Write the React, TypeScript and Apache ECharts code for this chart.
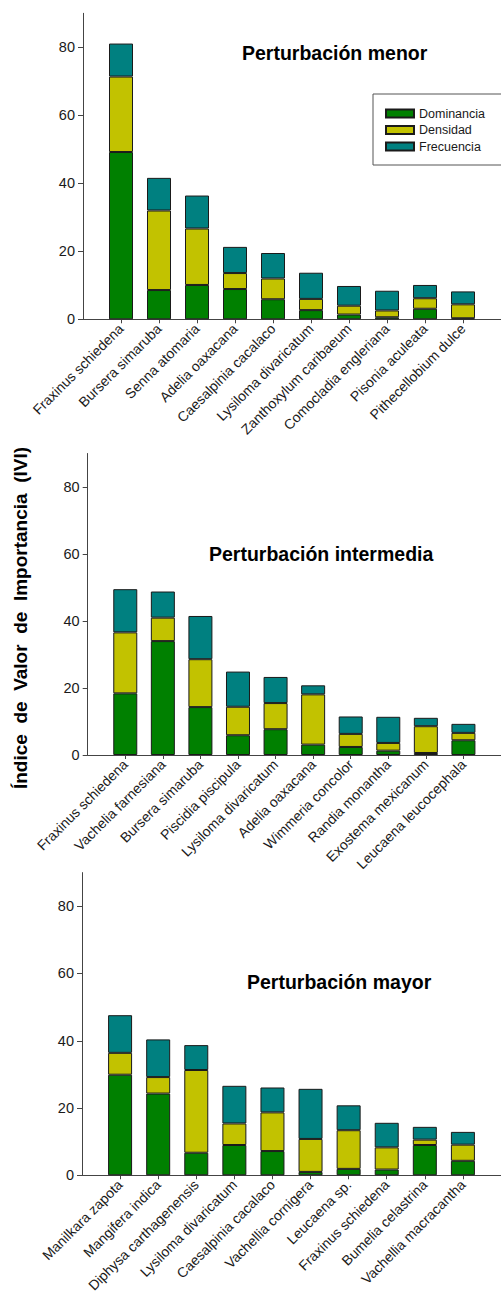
import React, { useEffect, useRef } from "react";
import * as echarts from "echarts";

const SERIES_NAMES = ["Dominancia", "Densidad", "Frecuencia"];
const COLORS = ["#008000", "#c2c200", "#008080"];

const CATS_MENOR = [
  "Fraxinus schiedena", "Bursera simaruba", "Senna atomaria", "Adelia oaxacana",
  "Caesalpinia cacalaco", "Lysiloma divaricatum", "Zanthoxylum caribaeum",
  "Comocladia engleriana", "Pisonia aculeata", "Pithecellobium dulce",
];
const DOM_MENOR = [49.2, 8.6, 10.1, 8.9, 5.9, 2.7, 1.4, 0.6, 3.1, 0.3];
const DEN_MENOR = [22.2, 23.4, 16.6, 4.7, 6.1, 3.3, 2.6, 2.0, 3.1, 4.1];
const FRE_MENOR = [9.7, 9.6, 9.7, 7.7, 7.5, 7.7, 5.8, 5.8, 3.9, 3.8];

const CATS_INTER = [
  "Fraxinus schiedena", "Vachelia farnesiana", "Bursera simaruba", "Piscidia piscipula",
  "Lysiloma divaricatum", "Adelia oaxacana", "Wimmeria concolor", "Randia monantha",
  "Exostema mexicanum", "Leucaena leucocephala",
];
const DOM_INTER = [18.4, 34.0, 14.3, 5.9, 7.7, 3.1, 2.4, 1.3, 0.6, 4.4];
const DEN_INTER = [18.2, 7.0, 14.3, 8.5, 7.8, 15.0, 3.9, 2.3, 8.0, 2.2];
const FRE_INTER = [12.9, 7.8, 12.9, 10.5, 7.8, 2.7, 5.2, 7.8, 2.5, 2.7];

const CATS_MAYOR = [
  "Manilkara zapota", "Mangifera indica", "Diphysa carthagenensis", "Lysiloma divaricatum",
  "Caesalpinia cacalaco", "Vachellia cornigera", "Leucaena sp.", "Fraxinus schiedena",
  "Bumelia celastrina", "Vachellia macracantha",
];
const DOM_MAYOR = [29.9, 24.3, 6.7, 9.0, 7.2, 1.0, 1.9, 1.7, 9.0, 4.3];
const DEN_MAYOR = [6.5, 4.9, 24.6, 6.4, 11.5, 9.8, 11.5, 6.6, 1.6, 4.8];
const FRE_MAYOR = [11.2, 11.2, 7.4, 11.2, 7.4, 14.9, 7.4, 7.3, 3.8, 3.8];

const TITLES = ["Perturbación menor", "Perturbación intermedia", "Perturbación mayor"];
const Y_TICKS = [0, 20, 40, 60, 80];
const Y_MAX = 90;
const Y_TITLE = "Índice  de  Valor  de  Importancia  (IVI)";

const PANELS = [
  { cats: CATS_MENOR, vals: [DOM_MENOR, DEN_MENOR, FRE_MENOR] },
  { cats: CATS_INTER, vals: [DOM_INTER, DEN_INTER, FRE_INTER] },
  { cats: CATS_MAYOR, vals: [DOM_MAYOR, DEN_MAYOR, FRE_MAYOR] },
];

// layout (pixels)
const LAYOUT = [
  { left: 83, top: 13.3, height: 306, step: 38.67, titleX: 242, titleY: 52.5 },
  { left: 87.7, top: 453.5, height: 301.5, step: 38.3, titleX: 209, titleY: 553.7 },
  { left: 82, top: 872.6, height: 303.1, step: 38.4, titleX: 247, titleY: 981.5 },
];

const FONT = "'Liberation Sans', Arial, Helvetica, sans-serif";

export default function App() {
  const ref = useRef<HTMLDivElement>(null);
  useEffect(() => {
    if (!ref.current) return;
    const chart = echarts.init(ref.current, undefined, { renderer: "svg" });
    const grids: any[] = [];
    const xAxes: any[] = [];
    const yAxes: any[] = [];
    const series: any[] = [];
    PANELS.forEach((p, i) => {
      const L = LAYOUT[i];
      // padded categories: an empty slot at the axis origin and one past the end
      const cats = ["", ...p.cats, ""];
      const last = cats.length - 1;
      grids.push({ left: L.left, top: L.top, width: last * L.step, height: L.height });
      xAxes.push({
        type: "category",
        gridIndex: i,
        data: cats,
        boundaryGap: false,
        splitLine: { show: false },
        axisLine: { show: true, lineStyle: { color: "#444", width: 1 } },
        axisTick: {
          show: true,
          length: 4,
          interval: (idx: number) => idx > 0 && idx < last,
          lineStyle: { color: "#444" },
        },
        axisLabel: {
          interval: (idx: number) => idx > 0 && idx < last,
          rotate: 45,
          margin: 7,
          fontSize: 14,
          fontFamily: FONT,
          color: "#1a1a1a",
        },
      });
      yAxes.push({
        type: "value",
        gridIndex: i,
        min: 0,
        max: Y_MAX,
        splitLine: { show: false },
        axisLine: { show: true, lineStyle: { color: "#444", width: 1 } },
        axisTick: { show: true, length: 5, customValues: Y_TICKS, lineStyle: { color: "#444" } },
        axisLabel: {
          customValues: Y_TICKS,
          margin: 8,
          fontSize: 14.5,
          fontFamily: FONT,
          color: "#1a1a1a",
        },
      });
      p.vals.forEach((vals, s) => {
        series.push({
          type: "bar",
          name: SERIES_NAMES[s],
          xAxisIndex: i,
          yAxisIndex: i,
          stack: "p" + i,
          barWidth: 24,
          itemStyle: { color: COLORS[s], borderColor: "#1a1a1a", borderWidth: 1 },
          data: ["-", ...vals, "-"],
        });
      });
    });

    const graphics: any[] = TITLES.map((t, i) => ({
      type: "text",
      x: LAYOUT[i].titleX,
      y: LAYOUT[i].titleY,
      style: {
        text: t,
        fontSize: 19.5,
        fontWeight: "bold",
        fontFamily: FONT,
        fill: "#000",
        verticalAlign: "middle",
        align: "left",
      },
    }));
    graphics.push({
      type: "text",
      x: 20,
      y: 618,
      rotation: Math.PI / 2,
      style: {
        text: Y_TITLE,
        fontSize: 19,
        fontWeight: "bold",
        fontFamily: FONT,
        fill: "#000",
        align: "center",
        verticalAlign: "middle",
      },
    });

    chart.setOption({
      animation: false,
      backgroundColor: "#fff",
      grid: grids,
      xAxis: xAxes,
      yAxis: yAxes,
      series,
      graphic: graphics,
      legend: {
        data: SERIES_NAMES,
        orient: "vertical",
        left: 373,
        top: 94,
        icon: "rect",
        itemWidth: 28,
        itemHeight: 8,
        itemGap: 3.5,
        padding: [13, 24, 12, 12],
        borderColor: "#555",
        borderWidth: 1,
        textStyle: { fontSize: 12.5, fontFamily: FONT, color: "#1a1a1a" },
      },
    });
    return () => chart.dispose();
  }, []);
  return (
    <div
      ref={ref}
      style={{ position: "absolute", left: 0, top: 0, width: 501, height: 1295, background: "#fff" }}
    />
  );
}
